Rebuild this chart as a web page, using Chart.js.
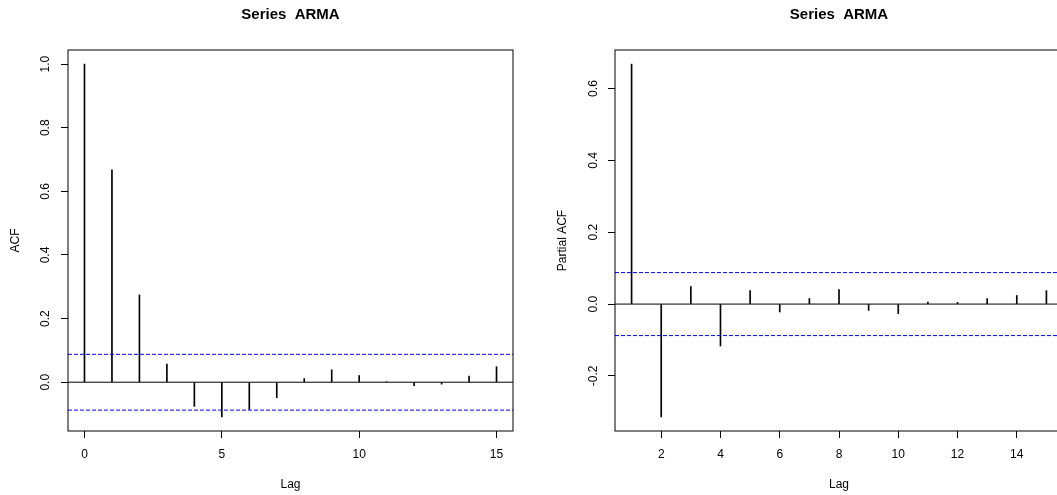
<!DOCTYPE html>
<html>
<head>
<meta charset="utf-8">
<title>Series ARMA – ACF / PACF</title>
<script src="https://cdn.jsdelivr.net/npm/chart.js@4.4.1/dist/chart.umd.min.js"></script>
<style>
  html, body { margin: 0; padding: 0; background: #fff; overflow: hidden; width: 1057px; height: 495px; }
  .panel { position: absolute; top: 0; height: 495px; }
  #acfPanel { left: 0; width: 530px; }
  #pacfPanel { left: 530px; width: 540px; }
  canvas { display: block; }
</style>
</head>
<body>
<div class="panel" id="acfPanel"><canvas id="acfChart" width="530" height="495"></canvas></div>
<div class="panel" id="pacfPanel"><canvas id="pacfChart" width="540" height="495"></canvas></div>
<script>
// ---- data -------------------------------------------------------------
const acfLags   = [0, 1, 2, 3, 4, 5, 6, 7, 8, 9, 10, 11, 12, 13, 14, 15];
const acfValues = [1.0, 0.668, 0.2745, 0.057, -0.076, -0.109, -0.0855, -0.0486,
                   0.0116, 0.039, 0.021, 0.001, -0.0106, -0.006, 0.019, 0.0486];

const pacfLags   = [1, 2, 3, 4, 5, 6, 7, 8, 9, 10, 11, 12, 13, 14, 15];
const pacfValues = [0.668, -0.314, 0.0487, -0.1166, 0.0377, -0.022, 0.0156, 0.0404,
                    -0.0174, -0.0266, 0.0055, 0.0046, 0.0156, 0.0239, 0.0377];

// 95% white-noise band
const ciBound = 0.0877;

const acfXTicks  = [0, 5, 10, 15];
const acfYTicks  = [0, 0.2, 0.4, 0.6, 0.8, 1.0];
const pacfXTicks = [2, 4, 6, 8, 10, 12, 14];
const pacfYTicks = [-0.2, 0, 0.2, 0.4, 0.6];

const mainTitle = 'Series  ARMA';
const lagTitle  = 'Lag';
const acfTitle  = 'ACF';
const pacfTitle = 'Partial ACF';

// ---- helpers ----------------------------------------------------------
Chart.defaults.font.family = "'Liberation Sans', Arial, Helvetica, sans-serif";
Chart.defaults.font.size = 12;
Chart.defaults.color = '#000';

// R-style axis range: data extent widened by 4% on each side
function paddedRange(lo, hi) {
  const d = (hi - lo) * 0.04;
  return [lo - d, hi + d];
}

// plot frame around the chart area
const framePlugin = {
  id: 'frame',
  afterDraw(chart) {
    const { ctx, chartArea: a } = chart;
    ctx.save();
    ctx.strokeStyle = '#000';
    ctx.lineWidth = 1;
    ctx.strokeRect(a.left, a.top, a.right - a.left, a.bottom - a.top);
    ctx.restore();
  }
};

function hLine(xr, y, color, dash) {
  return {
    type: 'line',
    data: [{ x: xr[0], y }, { x: xr[1], y }],
    borderColor: color,
    borderWidth: 1,
    borderDash: dash || [],
    pointRadius: 0,
    fill: false,
    order: 0
  };
}

function correlogram(canvasId, lags, values, xTicks, yTicks, yLabel, box) {
  const xr = paddedRange(Math.min(...lags), Math.max(...lags));
  const yr = paddedRange(Math.min(...values, -ciBound), Math.max(...values, ciBound));

  return new Chart(document.getElementById(canvasId), {
    type: 'bar',
    data: {
      datasets: [
        {
          type: 'bar',
          data: lags.map((x, i) => ({ x, y: values[i] })),
          backgroundColor: '#000',
          borderWidth: 0,
          barThickness: 1,
          order: 1
        },
        hLine(xr, 0, '#000'),
        hLine(xr, ciBound, '#0000ff', [4, 2]),
        hLine(xr, -ciBound, '#0000ff', [4, 2])
      ]
    },
    options: {
      responsive: false,
      animation: false,
      devicePixelRatio: 1,
      events: [],
      layout: { padding: { left: 0, right: box.rightPad, top: 0, bottom: 0 } },
      plugins: {
        legend: { display: false },
        tooltip: { enabled: false },
        title: {
          display: true,
          text: mainTitle,
          fullSize: false,
          color: '#000',
          font: { size: 15, weight: 'bold' },
          padding: { top: 5.5, bottom: 26.5 }
        }
      },
      scales: {
        x: {
          type: 'linear',
          min: xr[0],
          max: xr[1],
          offset: false,
          afterBuildTicks: s => { s.ticks = xTicks.map(value => ({ value })); },
          ticks: {
            autoSkip: false, minRotation: 0, maxRotation: 0, padding: 9,
            color: '#000', font: { size: 12 },
            callback: v => String(v)
          },
          grid: {
            display: true, drawOnChartArea: false, drawTicks: true,
            tickLength: 7, color: '#000', offset: false
          },
          border: { display: false },
          title: {
            display: true, text: lagTitle, color: '#000',
            font: { size: 12 }, padding: { top: 0, bottom: 3.3 }
          },
          afterFit: s => { s.height = box.xAxisHeight; }
        },
        y: {
          type: 'linear',
          min: yr[0],
          max: yr[1],
          afterBuildTicks: s => { s.ticks = yTicks.map(value => ({ value })); },
          ticks: {
            autoSkip: false, minRotation: 90, maxRotation: 90,
            crossAlign: 'center', padding: box.yTickPad,
            color: '#000', font: { size: 12 },
            callback: v => Number(v).toFixed(1)
          },
          grid: {
            display: true, drawOnChartArea: false, drawTicks: true,
            tickLength: 7, color: '#000'
          },
          border: { display: false },
          title: {
            display: true, text: yLabel, color: '#000',
            font: { size: 12 }, padding: { top: box.yTitlePad, bottom: 0 }
          },
          afterFit: s => { s.width = box.yAxisWidth; }
        }
      }
    },
    plugins: [framePlugin]
  });
}

correlogram('acfChart', acfLags, acfValues, acfXTicks, acfYTicks, acfTitle,
  { yAxisWidth: 68, xAxisHeight: 64, rightPad: 17, yTickPad: 6.8, yTitlePad: 8.3 });

correlogram('pacfChart', pacfLags, pacfValues, pacfXTicks, pacfYTicks, pacfTitle,
  { yAxisWidth: 85, xAxisHeight: 64, rightPad: 7, yTickPad: 4, yTitlePad: 25.3 });
</script>
</body>
</html>
